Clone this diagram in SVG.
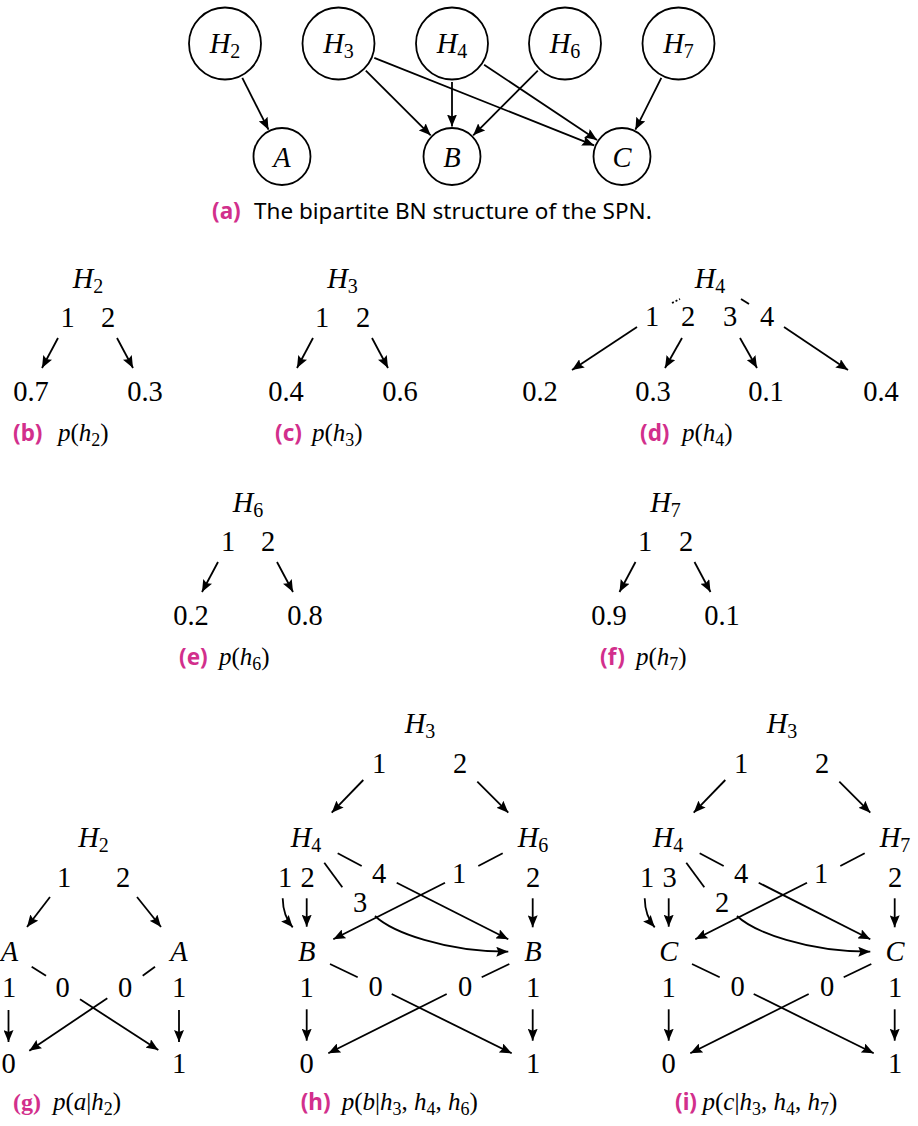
<svg xmlns="http://www.w3.org/2000/svg" width="918" height="1126" viewBox="0 0 918 1126">
<defs>
<style>
.m{font-family:"Liberation Serif","DejaVu Serif",serif;font-size:28.5px;fill:#000}
.i{font-style:italic}
.s{font-size:20px}
.cm{font-family:"Liberation Serif","DejaVu Serif",serif;font-size:25px;fill:#000}
.cs{font-size:18px}
.cap{font-family:"Noto Sans","Open Sans",sans-serif;font-size:22.5px;fill:#000}
.lab{font-family:"Noto Sans","Open Sans",sans-serif;font-size:22.5px;font-weight:bold;fill:#d22f8c}
.labs{font-family:"Liberation Serif",serif;font-size:24px;font-weight:bold;fill:#d22f8c}
.e{stroke:#000;stroke-width:1.8;fill:none}
.a{stroke:#000;stroke-width:1.8;fill:none;marker-end:url(#ah)}
.nc{fill:#fff;stroke:#000;stroke-width:1.8}
</style>
<marker id="ah" viewBox="0 0 12 10" refX="12" refY="5" markerWidth="12" markerHeight="10" markerUnits="userSpaceOnUse" orient="auto"><path d="M0,0 L12,5 L0,10 L2,5 z" fill="#000"/></marker>
</defs>
<rect width="918" height="1126" fill="#fff"/>

<!-- (a) -->
<g id="fig-a">
<g id="a-H2"><circle class="nc" cx="225" cy="43.5" r="36"/><text class="m" x="225" y="53" text-anchor="middle"><tspan class="i">H</tspan><tspan class="s" dy="5">2</tspan></text></g>
<g id="a-H3"><circle class="nc" cx="338.5" cy="43.5" r="36"/><text class="m" x="338.5" y="53" text-anchor="middle"><tspan class="i">H</tspan><tspan class="s" dy="5">3</tspan></text></g>
<g id="a-H4"><circle class="nc" cx="452" cy="43.5" r="36"/><text class="m" x="452" y="53" text-anchor="middle"><tspan class="i">H</tspan><tspan class="s" dy="5">4</tspan></text></g>
<g id="a-H6"><circle class="nc" cx="565" cy="43.5" r="36"/><text class="m" x="565" y="53" text-anchor="middle"><tspan class="i">H</tspan><tspan class="s" dy="5">6</tspan></text></g>
<g id="a-H7"><circle class="nc" cx="678.5" cy="43.5" r="36"/><text class="m" x="678.5" y="53" text-anchor="middle"><tspan class="i">H</tspan><tspan class="s" dy="5">7</tspan></text></g>
<g id="a-A"><circle class="nc" cx="282" cy="156.5" r="28.5"/><text class="m i" x="282" y="166.5" text-anchor="middle">A</text></g>
<g id="a-B"><circle class="nc" cx="452" cy="156.5" r="28.5"/><text class="m i" x="452" y="166.5" text-anchor="middle">B</text></g>
<g id="a-C"><circle class="nc" cx="622" cy="156.5" r="28.5"/><text class="m i" x="622" y="166.5" text-anchor="middle">C</text></g>
<g id="a-cap"><text class="lab" x="212" y="219">(a)</text><text class="cap" x="254" y="219">The bipartite BN structure of the SPN.</text></g>
</g>

<!-- (b) -->
<g id="fig-b">
<g id="b-H2"><text class="m" x="88" y="288" text-anchor="middle"><tspan class="i">H</tspan><tspan class="s" dy="5">2</tspan></text></g>
<g id="b-1"><text class="m" x="67.5" y="327" text-anchor="middle">1</text></g>
<g id="b-2"><text class="m" x="108" y="327" text-anchor="middle">2</text></g>
<g id="b-v1"><text class="m" x="31" y="401" text-anchor="middle">0.7</text></g>
<g id="b-v2"><text class="m" x="145" y="401" text-anchor="middle">0.3</text></g>
<g id="b-cap"><text class="lab" x="13" y="441">(b)</text><text class="cm" x="58" y="441"><tspan class="i">p</tspan>(<tspan class="i">h</tspan><tspan class="cs" dy="5">2</tspan><tspan dy="-5">)</tspan></text></g>
</g>

<!-- (c) -->
<g id="fig-c">
<g id="c-H3"><text class="m" x="342.5" y="288" text-anchor="middle"><tspan class="i">H</tspan><tspan class="s" dy="5">3</tspan></text></g>
<g id="c-1"><text class="m" x="322" y="327" text-anchor="middle">1</text></g>
<g id="c-2"><text class="m" x="363" y="327" text-anchor="middle">2</text></g>
<g id="c-v1"><text class="m" x="286" y="401" text-anchor="middle">0.4</text></g>
<g id="c-v2"><text class="m" x="400" y="401" text-anchor="middle">0.6</text></g>
<g id="c-cap"><text class="lab" x="275" y="441">(c)</text><text class="cm" x="312" y="441"><tspan class="i">p</tspan>(<tspan class="i">h</tspan><tspan class="cs" dy="5">3</tspan><tspan dy="-5">)</tspan></text></g>
</g>

<!-- (d) -->
<g id="fig-d">
<g id="d-H4"><text class="m" x="710" y="288" text-anchor="middle"><tspan class="i">H</tspan><tspan class="s" dy="5">4</tspan></text></g>
<g id="d-1"><text class="m" x="652" y="326" text-anchor="middle">1</text></g>
<g id="d-2"><text class="m" x="688" y="326" text-anchor="middle">2</text></g>
<g id="d-3"><text class="m" x="730" y="326" text-anchor="middle">3</text></g>
<g id="d-4"><text class="m" x="767" y="326" text-anchor="middle">4</text></g>
<g id="d-v1"><text class="m" x="540" y="401" text-anchor="middle">0.2</text></g>
<g id="d-v2"><text class="m" x="653" y="401" text-anchor="middle">0.3</text></g>
<g id="d-v3"><text class="m" x="766" y="401" text-anchor="middle">0.1</text></g>
<g id="d-v4"><text class="m" x="881" y="401" text-anchor="middle">0.4</text></g>
<g id="d-cap"><text class="lab" x="640" y="441">(d)</text><text class="cm" x="682" y="441"><tspan class="i">p</tspan>(<tspan class="i">h</tspan><tspan class="cs" dy="5">4</tspan><tspan dy="-5">)</tspan></text></g>
</g>

<!-- (e) -->
<g id="fig-e">
<g id="e-H6"><text class="m" x="248" y="512" text-anchor="middle"><tspan class="i">H</tspan><tspan class="s" dy="5">6</tspan></text></g>
<g id="e-1"><text class="m" x="228" y="551" text-anchor="middle">1</text></g>
<g id="e-2"><text class="m" x="268" y="551" text-anchor="middle">2</text></g>
<g id="e-v1"><text class="m" x="191" y="625" text-anchor="middle">0.2</text></g>
<g id="e-v2"><text class="m" x="305" y="625" text-anchor="middle">0.8</text></g>
<g id="e-cap"><text class="lab" x="179" y="665">(e)</text><text class="cm" x="219" y="665"><tspan class="i">p</tspan>(<tspan class="i">h</tspan><tspan class="cs" dy="5">6</tspan><tspan dy="-5">)</tspan></text></g>
</g>

<!-- (f) -->
<g id="fig-f">
<g id="f-H7"><text class="m" x="665.5" y="512" text-anchor="middle"><tspan class="i">H</tspan><tspan class="s" dy="5">7</tspan></text></g>
<g id="f-1"><text class="m" x="645" y="551" text-anchor="middle">1</text></g>
<g id="f-2"><text class="m" x="686" y="551" text-anchor="middle">2</text></g>
<g id="f-v1"><text class="m" x="609" y="625" text-anchor="middle">0.9</text></g>
<g id="f-v2"><text class="m" x="722" y="625" text-anchor="middle">0.1</text></g>
<g id="f-cap"><text class="lab" x="600" y="665">(f)</text><text class="cm" x="636" y="665"><tspan class="i">p</tspan>(<tspan class="i">h</tspan><tspan class="cs" dy="5">7</tspan><tspan dy="-5">)</tspan></text></g>
</g>

<!-- (g) -->
<g id="fig-g">
<g id="g-H2"><text class="m" x="93.5" y="847" text-anchor="middle"><tspan class="i">H</tspan><tspan class="s" dy="5">2</tspan></text></g>
<g id="g-1"><text class="m" x="64" y="887" text-anchor="middle">1</text></g>
<g id="g-2"><text class="m" x="123" y="887" text-anchor="middle">2</text></g>
<g id="g-A1"><text class="m i" x="9.5" y="961" text-anchor="middle">A</text></g>
<g id="g-A2"><text class="m i" x="179" y="961" text-anchor="middle">A</text></g>
<g id="g-A1-1"><text class="m" x="9" y="997" text-anchor="middle">1</text></g>
<g id="g-A1-0"><text class="m" x="62.5" y="997" text-anchor="middle">0</text></g>
<g id="g-A2-0"><text class="m" x="125" y="997" text-anchor="middle">0</text></g>
<g id="g-A2-1"><text class="m" x="179" y="997" text-anchor="middle">1</text></g>
<g id="g-out0"><text class="m" x="8.5" y="1073" text-anchor="middle">0</text></g>
<g id="g-out1"><text class="m" x="179" y="1073" text-anchor="middle">1</text></g>
<g id="g-cap"><text class="labs" x="13" y="1110">(g)</text><text class="cm" x="53" y="1110"><tspan class="i">p</tspan>(<tspan class="i">a</tspan>|<tspan class="i">h</tspan><tspan class="cs" dy="5">2</tspan><tspan dy="-5">)</tspan></text></g>
</g>

<!-- (h) -->
<g id="fig-h">
<g id="h-H3"><text class="m" x="420" y="733" text-anchor="middle"><tspan class="i">H</tspan><tspan class="s" dy="5">3</tspan></text></g>
<g id="h-H3-1"><text class="m" x="379" y="773" text-anchor="middle">1</text></g>
<g id="h-H3-2"><text class="m" x="460" y="773" text-anchor="middle">2</text></g>
<g id="h-H4"><text class="m" x="306" y="847" text-anchor="middle"><tspan class="i">H</tspan><tspan class="s" dy="5">4</tspan></text></g>
<g id="h-H6"><text class="m" x="533" y="847" text-anchor="middle"><tspan class="i">H</tspan><tspan class="s" dy="5">6</tspan></text></g>
<g id="h-H4-1"><text class="m" x="285" y="887" text-anchor="middle">1</text></g>
<g id="h-H4-2"><text class="m" x="307.5" y="887" text-anchor="middle">2</text></g>
<g id="h-H4-4"><text class="m" x="379" y="883" text-anchor="middle">4</text></g>
<g id="h-H4-3"><text class="m" x="360" y="912" text-anchor="middle">3</text></g>
<g id="h-H6-1"><text class="m" x="459" y="883" text-anchor="middle">1</text></g>
<g id="h-H6-2"><text class="m" x="533" y="887" text-anchor="middle">2</text></g>
<g id="h-B1"><text class="m i" x="306.7" y="961" text-anchor="middle">B</text></g>
<g id="h-B2"><text class="m i" x="533" y="961" text-anchor="middle">B</text></g>
<g id="h-B1-1"><text class="m" x="306.5" y="997" text-anchor="middle">1</text></g>
<g id="h-B1-0"><text class="m" x="375.5" y="996" text-anchor="middle">0</text></g>
<g id="h-B2-0"><text class="m" x="465" y="996" text-anchor="middle">0</text></g>
<g id="h-B2-1"><text class="m" x="533" y="997" text-anchor="middle">1</text></g>
<g id="h-out0"><text class="m" x="306.5" y="1073" text-anchor="middle">0</text></g>
<g id="h-out1"><text class="m" x="533" y="1073" text-anchor="middle">1</text></g>
<g id="h-cap"><text class="lab" x="300.7" y="1110">(h)</text><text class="cm" x="341.7" y="1110"><tspan class="i">p</tspan>(<tspan class="i">b</tspan>|<tspan class="i">h</tspan><tspan class="cs" dy="5">3</tspan><tspan dy="-5">, </tspan><tspan class="i">h</tspan><tspan class="cs" dy="5">4</tspan><tspan dy="-5">, </tspan><tspan class="i">h</tspan><tspan class="cs" dy="5">6</tspan><tspan dy="-5">)</tspan></text></g>
</g>

<!-- (i) -->
<g id="fig-i" transform="translate(362,0)">
<g id="i-H3"><text class="m" x="420" y="733" text-anchor="middle"><tspan class="i">H</tspan><tspan class="s" dy="5">3</tspan></text></g>
<g id="i-H3-1"><text class="m" x="379" y="773" text-anchor="middle">1</text></g>
<g id="i-H3-2"><text class="m" x="460" y="773" text-anchor="middle">2</text></g>
<g id="i-H4"><text class="m" x="306" y="847" text-anchor="middle"><tspan class="i">H</tspan><tspan class="s" dy="5">4</tspan></text></g>
<g id="i-H7"><text class="m" x="533" y="847" text-anchor="middle"><tspan class="i">H</tspan><tspan class="s" dy="5">7</tspan></text></g>
<g id="i-H4-1"><text class="m" x="285" y="887" text-anchor="middle">1</text></g>
<g id="i-H4-3"><text class="m" x="307.5" y="887" text-anchor="middle">3</text></g>
<g id="i-H4-4"><text class="m" x="379" y="883" text-anchor="middle">4</text></g>
<g id="i-H4-2"><text class="m" x="360" y="912" text-anchor="middle">2</text></g>
<g id="i-H7-1"><text class="m" x="459" y="883" text-anchor="middle">1</text></g>
<g id="i-H7-2"><text class="m" x="533" y="887" text-anchor="middle">2</text></g>
<g id="i-C1"><text class="m i" x="306.7" y="961" text-anchor="middle">C</text></g>
<g id="i-C2"><text class="m i" x="533" y="961" text-anchor="middle">C</text></g>
<g id="i-C1-1"><text class="m" x="306.5" y="997" text-anchor="middle">1</text></g>
<g id="i-C1-0"><text class="m" x="375.5" y="996" text-anchor="middle">0</text></g>
<g id="i-C2-0"><text class="m" x="465" y="996" text-anchor="middle">0</text></g>
<g id="i-C2-1"><text class="m" x="533" y="997" text-anchor="middle">1</text></g>
<g id="i-out0"><text class="m" x="306.5" y="1073" text-anchor="middle">0</text></g>
<g id="i-out1"><text class="m" x="533" y="1073" text-anchor="middle">1</text></g>
</g>
<g id="i-cap"><text class="lab" x="675" y="1110">(i)</text><text class="cm" x="702.5" y="1110"><tspan class="i">p</tspan>(<tspan class="i">c</tspan>|<tspan class="i">h</tspan><tspan class="cs" dy="5">3</tspan><tspan dy="-5">, </tspan><tspan class="i">h</tspan><tspan class="cs" dy="5">4</tspan><tspan dy="-5">, </tspan><tspan class="i">h</tspan><tspan class="cs" dy="5">7</tspan><tspan dy="-5">)</tspan></text></g>

<!-- connectors -->
<g id="connectors">
<g id="conn-a">
<line class="a" x1="242.3" y1="77.9" x2="268.5" y2="129.7"/>
<line class="a" x1="365.8" y1="70.7" x2="430.7" y2="135.3"/>
<line class="a" x1="374.3" y1="57.8" x2="594.1" y2="145.4"/>
<line class="a" x1="452" y1="82" x2="452" y2="126.5"/>
<line class="a" x1="484.1" y1="64.8" x2="597" y2="139.9"/>
<line class="a" x1="537.8" y1="70.7" x2="473.2" y2="135.3"/>
<line class="a" x1="661.3" y1="77.9" x2="635.4" y2="129.7"/>
</g>
<g id="conn-b">
<line class="a" x1="58" y1="338" x2="42" y2="368"/>
<line class="a" x1="117" y1="338" x2="133" y2="368"/>
</g>
<g id="conn-c">
<line class="a" x1="313" y1="338" x2="297" y2="368"/>
<line class="a" x1="372" y1="338" x2="388" y2="368"/>
</g>
<g id="conn-d">
<line class="e" x1="672" y1="303" x2="680" y2="299" stroke-dasharray="2,2"/>
<line class="e" x1="741" y1="299" x2="749" y2="304"/>
<line class="a" x1="637" y1="327" x2="572" y2="370"/>
<line class="a" x1="682" y1="338" x2="665" y2="368"/>
<line class="a" x1="740" y1="338" x2="757" y2="368"/>
<line class="a" x1="784" y1="327" x2="848" y2="370"/>
</g>
<g id="conn-e">
<line class="a" x1="218" y1="562" x2="202" y2="592"/>
<line class="a" x1="277" y1="562" x2="293" y2="592"/>
</g>
<g id="conn-f">
<line class="a" x1="635.5" y1="562" x2="619.5" y2="592"/>
<line class="a" x1="694.5" y1="562" x2="710.5" y2="592"/>
</g>
<g id="conn-g">
<line class="a" x1="50" y1="897" x2="27" y2="927"/>
<line class="a" x1="137" y1="897" x2="161" y2="927"/>
<line class="e" x1="31.7" y1="966.7" x2="46" y2="975.7"/>
<line class="e" x1="155" y1="966.7" x2="142.7" y2="975.7"/>
<line class="a" x1="80" y1="999.3" x2="158.3" y2="1050"/>
<line class="a" x1="107.3" y1="998.3" x2="29.3" y2="1050.7"/>
<line class="a" x1="8.5" y1="1010" x2="8.5" y2="1042"/>
<line class="a" x1="179" y1="1010" x2="179" y2="1042"/>
</g>
<g id="conn-h">
<line class="a" x1="363.3" y1="780" x2="331.7" y2="812.7"/>
<line class="a" x1="477.3" y1="781.7" x2="508.3" y2="812.7"/>
<line class="e" x1="337.7" y1="853.3" x2="361.7" y2="866"/>
<line class="e" x1="324.3" y1="862.7" x2="342.3" y2="887.3"/>
<line class="e" x1="502.7" y1="853.3" x2="478.3" y2="866"/>
<path class="a" d="M282.7,898.3 Q283,916 292.7,927.3"/>
<line class="a" x1="306.7" y1="898.3" x2="306.7" y2="926.7"/>
<line class="a" x1="532.7" y1="898.3" x2="532.7" y2="927.3"/>
<line class="a" x1="445" y1="882.7" x2="333.3" y2="939.3"/>
<line class="a" x1="396.7" y1="882.7" x2="508.3" y2="939.3"/>
<path class="a" d="M375,916 C392,932 445,952 508.3,951.7"/>
<line class="e" x1="330" y1="964" x2="357.7" y2="977.3"/>
<line class="a" x1="391.7" y1="994" x2="511.7" y2="1053.3"/>
<line class="e" x1="509.3" y1="964" x2="481.7" y2="977.3"/>
<line class="a" x1="446.7" y1="994" x2="328.3" y2="1053.3"/>
<line class="a" x1="306.7" y1="1009.3" x2="306.7" y2="1040.7"/>
<line class="a" x1="532.7" y1="1009.3" x2="532.7" y2="1040.7"/>
</g>
<g id="conn-i" transform="translate(362,0)">
<line class="a" x1="363.3" y1="780" x2="331.7" y2="812.7"/>
<line class="a" x1="477.3" y1="781.7" x2="508.3" y2="812.7"/>
<line class="e" x1="337.7" y1="853.3" x2="361.7" y2="866"/>
<line class="e" x1="324.3" y1="862.7" x2="342.3" y2="887.3"/>
<line class="e" x1="502.7" y1="853.3" x2="478.3" y2="866"/>
<path class="a" d="M282.7,898.3 Q283,916 292.7,927.3"/>
<line class="a" x1="306.7" y1="898.3" x2="306.7" y2="926.7"/>
<line class="a" x1="532.7" y1="898.3" x2="532.7" y2="927.3"/>
<line class="a" x1="445" y1="882.7" x2="333.3" y2="939.3"/>
<line class="a" x1="396.7" y1="882.7" x2="508.3" y2="939.3"/>
<path class="a" d="M375,916 C392,932 445,952 508.3,951.7"/>
<line class="e" x1="330" y1="964" x2="357.7" y2="977.3"/>
<line class="a" x1="391.7" y1="994" x2="511.7" y2="1053.3"/>
<line class="e" x1="509.3" y1="964" x2="481.7" y2="977.3"/>
<line class="a" x1="446.7" y1="994" x2="328.3" y2="1053.3"/>
<line class="a" x1="306.7" y1="1009.3" x2="306.7" y2="1040.7"/>
<line class="a" x1="532.7" y1="1009.3" x2="532.7" y2="1040.7"/>
</g>
</g>
</svg>
